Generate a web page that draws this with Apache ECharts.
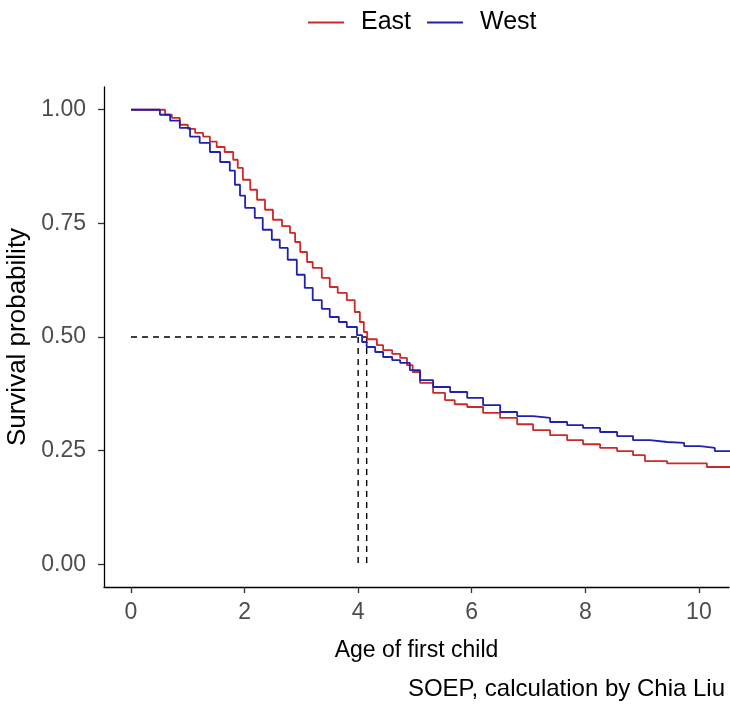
<!DOCTYPE html>
<html>
<head>
<meta charset="utf-8">
<script src="https://cdn.jsdelivr.net/npm/echarts@6/dist/echarts.min.js"></script>
<style>
  html, body { margin: 0; padding: 0; background: #fff; }
  #chart { width: 730px; height: 706px; }
</style>
</head>
<body>
<div id="chart"></div>
<script>
// Kaplan-Meier survival curves
const westAge = [0, 0.39, 0.51, 0.69, 0.86, 1.04, 1.21, 1.39, 1.57, 1.74, 1.83, 1.92, 2.01, 2.18, 2.32, 2.48, 2.62, 2.76, 2.92, 3.06, 3.20, 3.36, 3.50, 3.66, 3.80, 3.98, 4.07, 4.15, 4.30, 4.44, 4.60, 4.74, 4.91, 5.09, 5.32, 5.62, 5.92, 6.20, 6.50, 6.80, 7.08, 7.38, 7.68, 7.96, 8.26, 8.56, 8.84, 9.14, 9.44, 9.74, 10.02, 10.28, 10.55]
const westSurv = [1, 1, 0.989, 0.976, 0.960, 0.941, 0.927, 0.907, 0.885, 0.866, 0.835, 0.811, 0.784, 0.762, 0.736, 0.714, 0.696, 0.670, 0.637, 0.608, 0.581, 0.562, 0.544, 0.533, 0.522, 0.504, 0.489, 0.478, 0.467, 0.456, 0.449, 0.443, 0.427, 0.405, 0.390, 0.379, 0.366, 0.350, 0.335, 0.326, 0.322, 0.313, 0.306, 0.300, 0.291, 0.282, 0.273, 0.269, 0.267, 0.260, 0.256, 0.249, 0.247]

const eastAge = [0, 0.55, 0.60, 0.72, 0.86, 1.00, 1.13, 1.27, 1.39, 1.51, 1.65, 1.80, 1.88, 1.97, 2.10, 2.22, 2.36, 2.50, 2.66, 2.80, 2.89, 2.98, 3.10, 3.20, 3.36, 3.50, 3.64, 3.80, 3.94, 4.03, 4.10, 4.16, 4.33, 4.44, 4.60, 4.74, 4.86, 4.96, 5.09, 5.32, 5.53, 5.70, 5.92, 6.20, 6.50, 6.80, 7.08, 7.38, 7.68, 7.96, 8.26, 8.56, 8.84, 9.05, 9.44, 10.02, 10.14, 10.55]
const eastSurv = [1, 1, 0.989, 0.982, 0.967, 0.958, 0.949, 0.941, 0.930, 0.918, 0.907, 0.890, 0.872, 0.846, 0.824, 0.802, 0.780, 0.758, 0.744, 0.729, 0.709, 0.687, 0.665, 0.652, 0.630, 0.610, 0.597, 0.581, 0.555, 0.533, 0.511, 0.495, 0.482, 0.471, 0.463, 0.454, 0.438, 0.423, 0.399, 0.377, 0.361, 0.352, 0.346, 0.333, 0.322, 0.308, 0.295, 0.284, 0.273, 0.264, 0.256, 0.249, 0.240, 0.227, 0.222, 0.222, 0.214, 0.214]

// median survival times (West, East)
const medianAges = [4.0, 4.15]
const medianLevel = 0.5

const xTicks = [0, 2, 4, 6, 8, 10]
const yTicks = [0, 0.25, 0.5, 0.75, 1]

const zip = (xs, ys) => xs.map((x, i) => [x, ys[i]])

const dashStyle = { color: '#000', width: 1.4, type: [6, 5] }
const dashSeries = (data) => ({
  type: 'line',
  data: data,
  symbol: 'none',
  silent: true,
  lineStyle: dashStyle,
  z: 1,
})

const chart = echarts.init(document.getElementById('chart'))

const option = {
  animation: false,
  textStyle: { fontFamily: 'Liberation Sans, Arial, sans-serif' },
  legend: {
    data: ['East', 'West'],
    top: 5,
    left: 303,
    icon: 'rect',
    itemWidth: 36,
    itemHeight: 2,
    itemGap: 16,
    textStyle: { fontSize: 25, color: '#000', padding: [0, 0, 0, 12] },
  },
  grid: {
    left: 104,
    right: 1,
    top: 87,
    bottom: 119,
    outerBoundsMode: 'none',
  },
  xAxis: {
    type: 'value',
    min: -0.475,
    max: 10.53,
    name: 'Age of first child',
    nameLocation: 'middle',
    nameGap: 52,
    nameTextStyle: { fontSize: 23, color: '#000' },
    splitLine: { show: false },
    axisLine: { show: true, onZero: false, lineStyle: { color: '#000', width: 1.3 } },
    axisTick: { show: true, length: 6, customValues: xTicks, lineStyle: { color: '#333', width: 1.3 } },
    axisLabel: { customValues: xTicks, fontSize: 23, color: '#4d4d4d', margin: 14 },
  },
  yAxis: {
    type: 'value',
    min: -0.05,
    max: 1.05,
    name: 'Survival probability',
    nameLocation: 'middle',
    nameGap: 72,
    nameTextStyle: { fontSize: 26, color: '#000' },
    splitLine: { show: false },
    axisLine: { show: true, onZero: false, lineStyle: { color: '#000', width: 1.3 } },
    axisTick: { show: true, length: 6, customValues: yTicks, lineStyle: { color: '#333', width: 1.3 } },
    axisLabel: {
      customValues: yTicks,
      fontSize: 23,
      color: '#4d4d4d',
      margin: 18,
      formatter: (v) => v.toFixed(2),
    },
  },
  graphic: [
    {
      type: 'text',
      right: 5,
      top: 677,
      style: {
        text: 'SOEP, calculation by Chia Liu',
        fontSize: 24,
        fill: '#000',
        fontFamily: 'Liberation Sans, Arial, sans-serif',
      },
    },
  ],
  series: [
    dashSeries([[0, medianLevel], [medianAges[1], medianLevel]]),
    dashSeries([[medianAges[0], medianLevel], [medianAges[0], 0]]),
    dashSeries([[medianAges[1], medianLevel], [medianAges[1], 0]]),
    {
      name: 'East',
      type: 'line',
      step: 'end',
      data: zip(eastAge, eastSurv),
      symbol: 'none',
      color: '#cc2929',
      lineStyle: { width: 1.8 },
      z: 3,
    },
    {
      name: 'West',
      type: 'line',
      step: 'end',
      data: zip(westAge, westSurv),
      symbol: 'none',
      color: '#2121b0',
      lineStyle: { width: 1.8 },
      z: 4,
    },
  ],
}

chart.setOption(option)
window.addEventListener('resize', () => chart.resize())
</script>
</body>
</html>
